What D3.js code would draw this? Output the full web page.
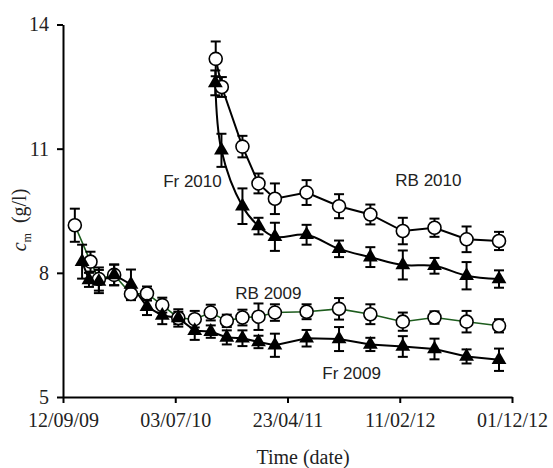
<!DOCTYPE html>
<html>
<head>
<meta charset="utf-8">
<script src="https://cdn.jsdelivr.net/npm/d3@7"></script>
<style>
body { margin: 0; background: #fff; overflow: hidden; }
.tick text { font-family: "Liberation Serif", serif; font-size: 20px; fill: #222; }
.tick line, .domain { stroke: #000; stroke-width: 2px; }
.series-label { font-family: "Liberation Sans", Arial, sans-serif; font-size: 17px; fill: #222; }
.axis-title { font-family: "Liberation Serif", serif; font-size: 20px; fill: #222; }
</style>
</head>
<body>
<svg width="553" height="468"></svg>
<script>
// RB 2009 (open circles)
const rb2009Dates = ['2009-10-13','2009-11-23','2009-12-15','2010-01-24','2010-03-09','2010-04-20','2010-05-30','2010-07-11','2010-08-23','2010-10-04','2010-11-15','2010-12-26','2011-02-06','2011-03-21','2011-06-12','2011-09-05','2011-11-26','2012-02-19','2012-05-12','2012-08-04','2012-10-28'];
const rb2009Values = [9.15, 8.27, 7.85, 7.95, 7.49, 7.50, 7.22, 6.91, 6.88, 7.04, 6.84, 6.92, 6.94, 7.04, 7.06, 7.13, 7.00, 6.82, 6.92, 6.82, 6.72];
const rb2009Errors = [0.40, 0.24, 0.28, 0.25, 0.15, 0.17, 0.18, 0.15, 0.20, 0.19, 0.15, 0.19, 0.32, 0.20, 0.18, 0.26, 0.24, 0.22, 0.15, 0.26, 0.16];

// Fr 2009 (filled triangles)
const fr2009Dates = ['2009-11-01','2009-11-19','2009-12-15','2010-01-24','2010-03-09','2010-04-20','2010-05-30','2010-07-11','2010-08-23','2010-10-04','2010-11-15','2010-12-26','2011-02-06','2011-03-21','2011-06-12','2011-09-05','2011-11-26','2012-02-19','2012-05-12','2012-08-04','2012-10-28'];
const fr2009Values = [8.27, 7.83, 7.79, 7.95, 7.72, 7.18, 6.97, 6.91, 6.60, 6.58, 6.44, 6.42, 6.33, 6.25, 6.42, 6.40, 6.27, 6.22, 6.16, 5.98, 5.90];
const fr2009Errors = [0.41, 0.17, 0.28, 0.25, 0.36, 0.20, 0.21, 0.21, 0.22, 0.15, 0.17, 0.19, 0.15, 0.28, 0.20, 0.29, 0.16, 0.25, 0.25, 0.17, 0.27];

// RB 2010 (open circles)
const rb2010Dates = ['2010-10-17','2010-11-02','2010-12-26','2011-02-06','2011-03-21','2011-06-12','2011-09-05','2011-11-26','2012-02-19','2012-05-12','2012-08-04','2012-10-28'];
const rb2010Values = [13.17, 12.49, 11.05, 10.16, 9.79, 9.94, 9.61, 9.41, 9.01, 9.09, 8.81, 8.77];
const rb2010Errors = [0.42, 0.24, 0.26, 0.24, 0.37, 0.30, 0.29, 0.24, 0.32, 0.22, 0.31, 0.22];

// Fr 2010 (filled triangles)
const fr2010Dates = ['2010-10-16','2010-11-01','2010-12-26','2011-02-06','2011-03-21','2011-06-12','2011-09-05','2011-11-26','2012-02-19','2012-05-12','2012-08-04','2012-10-28'];
const fr2010Values = [12.59, 10.96, 9.61, 9.13, 8.87, 8.92, 8.58, 8.38, 8.19, 8.17, 7.93, 7.85];
const fr2010Errors = [0.30, 0.40, 0.43, 0.20, 0.34, 0.24, 0.20, 0.24, 0.35, 0.19, 0.33, 0.21];

const xTickDates = ['2009-09-12','2010-07-03','2011-04-23','2012-02-11','2012-12-01'];
const yTickValues = [5, 8, 11, 14];

const labelTexts = ['Fr 2010', 'RB 2010', 'RB 2009', 'Fr 2009'];
const labelDates = ['2010-08-17', '2012-04-26', '2011-03-04', '2011-10-08'];
const labelValues = [10.21, 10.22, 7.51, 5.57];

const parse = d3.utcParse('%Y-%m-%d');
const svg = d3.select('svg');

const x = d3.scaleUtc()
  .domain([parse(xTickDates[0]), parse(xTickDates[xTickDates.length - 1])])
  .range([63, 512]);
const y = d3.scaleLinear().domain([5, 14]).range([397, 24.5]);

const build = (dates, values, errors) =>
  dates.map((d, i) => ({ date: parse(d), value: values[i], err: errors[i] }));

const rb2009 = build(rb2009Dates, rb2009Values, rb2009Errors);
const fr2009 = build(fr2009Dates, fr2009Values, fr2009Errors);
const rb2010 = build(rb2010Dates, rb2010Values, rb2010Errors);
const fr2010 = build(fr2010Dates, fr2010Values, fr2010Errors);

// axes
const xAxis = d3.axisBottom(x)
  .tickValues(xTickDates.map(parse))
  .tickFormat(d3.utcFormat('%d/%m/%y'))
  .tickSize(6).tickSizeOuter(0).tickPadding(10);
svg.append('g').attr('transform', 'translate(0,397)').call(xAxis);

const yAxis = d3.axisLeft(y).tickValues(yTickValues).tickSize(6).tickSizeOuter(0).tickPadding(8);
svg.append('g').attr('transform', 'translate(63,0)').call(yAxis);

svg.append('text').attr('class', 'axis-title')
  .attr('x', 303).attr('y', 464).attr('text-anchor', 'middle')
  .text('Time (date)');

const yt = svg.append('text').attr('class', 'axis-title')
  .attr('transform', 'translate(26,220) rotate(-90)')
  .attr('text-anchor', 'middle');
yt.append('tspan').attr('font-style', 'italic').text('c');
yt.append('tspan').attr('font-size', '12px').attr('dy', 5).text('m');
yt.append('tspan').attr('dy', -5).text('\u00a0 (g/l)');

// lines
const straight = d3.line().x(d => x(d.date)).y(d => y(d.value));
const smooth = d3.line().x(d => x(d.date)).y(d => y(d.value)).curve(d3.curveCatmullRom.alpha(0.5));

svg.append('path').datum(rb2009).attr('d', straight)
  .attr('fill', 'none').attr('stroke', '#1d5c1d').attr('stroke-width', 1.6);
svg.append('path').datum(fr2009).attr('d', straight)
  .attr('fill', 'none').attr('stroke', '#000').attr('stroke-width', 2);
svg.append('path').datum(rb2010).attr('d', straight)
  .attr('fill', 'none').attr('stroke', '#000').attr('stroke-width', 2);
svg.append('path').datum(fr2010).attr('d', smooth)
  .attr('fill', 'none').attr('stroke', '#000').attr('stroke-width', 2);

// error bars
const errorBars = (data) => {
  const g = svg.append('g').attr('stroke', '#000').attr('stroke-width', 2);
  data.forEach(d => {
    const cx = x(d.date), y0 = y(d.value - d.err), y1 = y(d.value + d.err);
    g.append('line').attr('x1', cx).attr('x2', cx).attr('y1', y0).attr('y2', y1);
    g.append('line').attr('x1', cx - 5).attr('x2', cx + 5).attr('y1', y0).attr('y2', y0);
    g.append('line').attr('x1', cx - 5).attr('x2', cx + 5).attr('y1', y1).attr('y2', y1);
  });
};
[rb2009, fr2009, rb2010, fr2010].forEach(errorBars);

// markers
const circles = (data) => svg.append('g').selectAll('circle').data(data).join('circle')
  .attr('cx', d => x(d.date)).attr('cy', d => y(d.value)).attr('r', 6.5)
  .attr('fill', '#fff').attr('stroke', '#000').attr('stroke-width', 1.6);
const triangle = d3.symbol().type(d3.symbolTriangle).size(95);
const triangles = (data) => svg.append('g').selectAll('path').data(data).join('path')
  .attr('d', triangle).attr('transform', d => `translate(${x(d.date)},${y(d.value)})`)
  .attr('fill', '#000');

circles(rb2009);
circles(rb2010);
triangles(fr2009);
triangles(fr2010);

// series labels
svg.append('g').selectAll('text').data(labelTexts).join('text')
  .attr('class', 'series-label')
  .attr('x', (d, i) => x(parse(labelDates[i])))
  .attr('y', (d, i) => y(labelValues[i]))
  .attr('text-anchor', 'middle').attr('dominant-baseline', 'central')
  .text(d => d);
</script>
</body>
</html>
